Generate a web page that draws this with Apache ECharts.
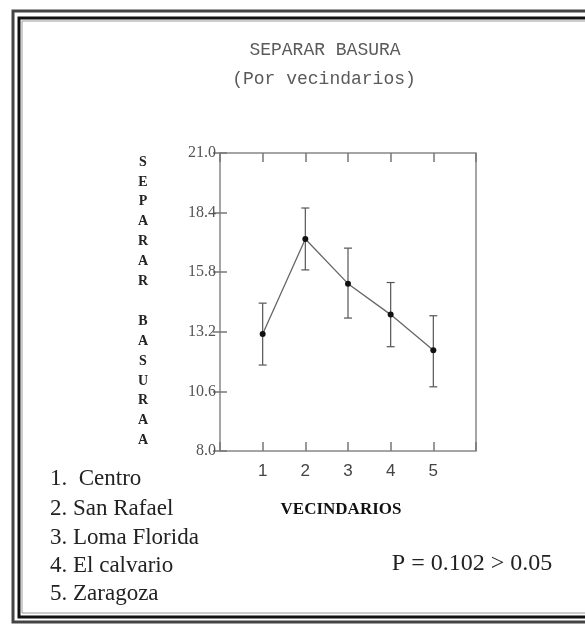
<!DOCTYPE html>
<html>
<head>
<meta charset="utf-8">
<script src="https://cdn.jsdelivr.net/npm/echarts@6/dist/echarts.min.js"></script>
<style>
  html, body { margin: 0; padding: 0; background: #fff; }
  #chart { width: 585px; height: 626px; }
</style>
</head>
<body>
<div id="chart"></div>
<script>
// neighbourhoods 1..5, mean and error bar limits
const vecindarios = [1, 2, 3, 4, 5]
const medias = [13.1, 17.25, 15.3, 13.95, 12.4]
const limSup = [14.45, 18.6, 16.85, 15.35, 13.9]
const limInf = [11.75, 15.9, 13.8, 12.55, 10.8]

const yTicks = [8.0, 10.6, 13.2, 15.8, 18.4, 21.0]
const nombres = ['1.  Centro', '2. San Rafael', '3. Loma Florida', '4. El calvario', '5. Zaragoza']
const tituloY = ['S', 'E', 'P', 'A', 'R', 'A', 'R', '', 'B', 'A', 'S', 'U', 'R', 'A', 'A']

const chart = echarts.init(document.getElementById('chart'))

// marco doble alrededor de todo
const marco = [
  { type: 'rect', shape: { x: 13, y: 11, width: 600, height: 611 }, style: { fill: null, stroke: '#444', lineWidth: 3 } },
  { type: 'rect', shape: { x: 19, y: 18, width: 600, height: 599 }, style: { fill: null, stroke: '#111', lineWidth: 3 } },
  { type: 'rect', shape: { x: 22, y: 21, width: 600, height: 592 }, style: { fill: null, stroke: '#999', lineWidth: 1 } }
]

const letras = tituloY.map((l, i) => ({
  type: 'text',
  x: 143, y: 162 + i * 19.9,
  style: { text: l, fill: '#222', font: 'bold 14px "Liberation Serif"', align: 'center', verticalAlign: 'middle' }
}))

const leyenda = nombres.map((n, i) => ({
  type: 'text',
  x: 50, y: [479, 509, 538, 566, 594][i],
  style: { text: n, fill: '#222', font: '23px "Liberation Serif"', verticalAlign: 'middle' }
}))

const textos = [
  { type: 'text', x: 325, y: 50, style: { text: 'SEPARAR BASURA', fill: '#5a5a5a', font: '18px "Liberation Mono"', align: 'center', verticalAlign: 'middle' } },
  { type: 'text', x: 324, y: 79, style: { text: '(Por vecindarios)', fill: '#5a5a5a', font: '18px "Liberation Mono"', align: 'center', verticalAlign: 'middle' } },
  { type: 'text', x: 341, y: 510, style: { text: 'VECINDARIOS', fill: '#111', font: 'bold 17px "Liberation Serif"', align: 'center', verticalAlign: 'middle' } },
  { type: 'text', x: 472, y: 564, style: { text: 'P = 0.102 > 0.05', fill: '#222', font: '24px "Liberation Serif"', align: 'center', verticalAlign: 'middle' } }
]

const ejeX = (pos, labels) => ({
  type: 'value', position: pos, min: 0, max: 6, interval: 1,
  axisLine: { show: false },
  splitLine: { show: false },
  axisTick: { show: true, inside: true, length: 9, lineStyle: { color: '#777', width: 1.5 } },
  axisLabel: {
    show: labels, margin: 12, color: '#444', fontSize: 17, fontFamily: 'Liberation Sans',
    formatter: v => (vecindarios.includes(v) ? String(v) : '')
  }
})

const ejeY = (pos, labels) => ({
  type: 'value', position: pos, min: yTicks[0], max: yTicks[yTicks.length - 1], interval: 2.6,
  axisLine: { show: false },
  splitLine: { show: false },
  axisTick: { show: true, inside: true, length: 7, lineStyle: { color: '#777', width: 1.5 } },
  axisLabel: {
    show: labels, margin: 4, color: '#555', fontSize: 16, fontFamily: 'Liberation Serif',
    formatter: v => v.toFixed(1)
  }
})

chart.setOption({
  animation: false,
  backgroundColor: '#fff',
  grid: {
    left: 220, top: 153, width: 256, height: 298,
    show: true, borderColor: '#888', borderWidth: 1.5, backgroundColor: 'transparent'
  },
  xAxis: [ejeX('bottom', true), ejeX('top', false)],
  yAxis: [ejeY('left', true), ejeY('right', false)],
  graphic: [...marco, ...textos, ...letras, ...leyenda],
  series: [
    {
      type: 'custom',
      name: 'error',
      data: vecindarios.map((x, i) => [x, limInf[i], limSup[i]]),
      renderItem: (params, api) => {
        const lo = api.coord([api.value(0), api.value(1)])
        const hi = api.coord([api.value(0), api.value(2)])
        const c = 4
        const st = { stroke: '#555', lineWidth: 1.2 }
        return {
          type: 'group',
          children: [
            { type: 'line', shape: { x1: hi[0], y1: hi[1], x2: lo[0], y2: lo[1] }, style: st },
            { type: 'line', shape: { x1: hi[0] - c, y1: hi[1], x2: hi[0] + c, y2: hi[1] }, style: st },
            { type: 'line', shape: { x1: lo[0] - c, y1: lo[1], x2: lo[0] + c, y2: lo[1] }, style: st }
          ]
        }
      },
      z: 2
    },
    {
      type: 'line',
      name: 'media',
      data: vecindarios.map((x, i) => [x, medias[i]]),
      symbol: 'circle',
      symbolSize: 6,
      itemStyle: { color: '#111' },
      lineStyle: { color: '#666', width: 1.3 },
      z: 3
    }
  ]
})
</script>
</body>
</html>
